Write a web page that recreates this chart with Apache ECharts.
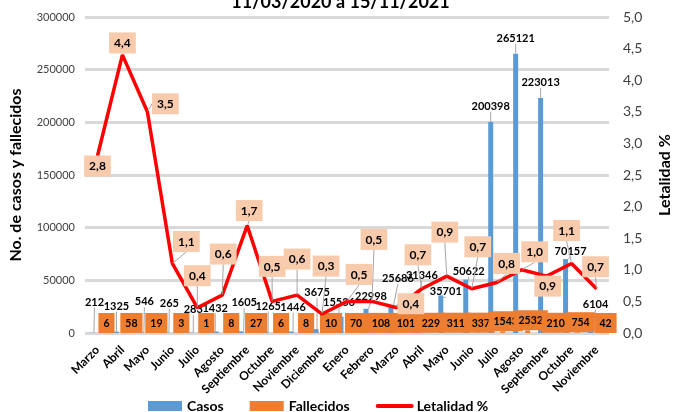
<!DOCTYPE html>
<html>
<head>
<meta charset="utf-8">
<script src="https://cdn.jsdelivr.net/npm/echarts@6/dist/echarts.min.js"></script>
<style>
  html, body { margin: 0; padding: 0; background: #fff; }
  #chart { width: 681px; height: 412px; }
</style>
</head>
<body>
<div id="chart"></div>
<script>
// datos
const meses = ['Marzo', 'Abril', 'Mayo', 'Junio', 'Julio', 'Agosto', 'Septiembre', 'Octubre', 'Noviembre', 'Diciembre',
  'Enero', 'Febrero', 'Marzo', 'Abril', 'Mayo', 'Junio', 'Julio', 'Agosto', 'Septiembre', 'Octubre', 'Noviembre']
const casos = [212, 1325, 546, 265, 283, 1432, 1605, 1265, 1446, 3675,
  15536, 22998, 25686, 31346, 35701, 50622, 200398, 265121, 223013, 70157, 6104]
const fallecidos = [6, 58, 19, 3, 1, 8, 27, 6, 8, 10,
  70, 108, 101, 229, 311, 337, 1543, 2532, 210, 754, 42]
const letalidad = [2.8, 4.4, 3.5, 1.1, 0.4, 0.6, 1.7, 0.5, 0.6, 0.3,
  0.5, 0.5, 0.4, 0.7, 0.9, 0.7, 0.8, 1.0, 0.9, 1.1, 0.7]

// etiquetas movidas a mano (como en el Excel)
const casosDx = [3, 0, 3, 3, 2, -1, 3, 2, 2, 1, -2, 5, 7, 6, 5, 3, 0, 0, 0, 5, 5]
const casosDy = [-15, -10, -15, -14, -8, -8, -13, -10, -9, -21, 1, 3, -12, -9, 12, 7, 0, 0, 0, 8, -7]
const letDx = [0, 0, 18, 14, 0, 1, 2, 0, 0, 4, 12, 2, 14, -4, -2, 6, 10, 13, 1, -5, -1]
const letDy = [26, 4, 8, -6, -16, -25, 1, -19, -20, -32, -11, -46, 12, -18, -28, -26, -3, -2, 26, -17, -6]

const FONT = 'Lato, Calibri, sans-serif'
const coma = v => Number(v).toFixed(1).replace('.', ',')
const guia = {show: true, lineStyle: {color: '#a6a6a6', width: 1}}

const chart = echarts.init(document.getElementById('chart'))

chart.setOption({
  backgroundColor: '#ffffff',
  animation: false,
  title: {
    text: '11/03/2020 a 15/11/2021',
    left: 'center',
    top: -12,
    textStyle: {fontFamily: FONT, fontSize: 18, fontWeight: 'bold', color: '#000'},
  },
  grid: {left: 82, right: 58, top: 17, bottom: 79},
  legend: {
    left: 143,
    top: 394,
    itemWidth: 34,
    itemHeight: 10,
    itemGap: 26,
    textStyle: {fontFamily: FONT, fontSize: 14, fontWeight: 'bold', color: '#000'},
    data: [
      {name: 'Casos', icon: 'rect'},
      {name: 'Fallecidos', icon: 'rect'},
      {name: 'Letalidad %', itemStyle: {opacity: 0}, lineStyle: {width: 4, cap: 'round'}},
    ],
  },
  xAxis: {
    type: 'category',
    data: meses,
    axisLine: {show: false},
    axisTick: {show: false},
    axisLabel: {
      interval: 0,
      rotate: 45,
      margin: 15,
      fontFamily: FONT,
      fontSize: 12,
      fontWeight: 'bold',
      color: '#000',
    },
  },
  yAxis: [
    {
      type: 'value',
      min: 0,
      max: 300000,
      interval: 50000,
      name: 'No. de casos y fallecidos',
      nameLocation: 'middle',
      nameGap: 61,
      nameTextStyle: {fontFamily: FONT, fontSize: 16, fontWeight: 'bold', color: '#000'},
      axisLine: {show: false},
      axisTick: {show: false},
      axisLabel: {fontFamily: FONT, fontSize: 11, color: '#404040', margin: 10, formatter: v => String(v)},
      splitLine: {lineStyle: {color: '#d9d9d9', width: 3}},
    },
    {
      type: 'value',
      min: 0,
      max: 5,
      interval: 0.5,
      name: 'Letalidad %',
      nameLocation: 'middle',
      nameRotate: 90,
      nameGap: 48,
      nameTextStyle: {fontFamily: FONT, fontSize: 16, fontWeight: 'bold', color: '#000'},
      axisLine: {show: false},
      axisTick: {show: false},
      axisLabel: {fontFamily: FONT, fontSize: 14, color: '#404040', margin: 14, formatter: coma},
      splitLine: {show: false},
    },
  ],
  series: [
    {
      name: 'Casos',
      type: 'bar',
      data: casos,
      barWidth: 5,
      barGap: '140%',
      itemStyle: {color: '#5b9bd5'},
      label: {
        show: true,
        position: 'top',
        distance: 10,
        fontFamily: FONT,
        fontSize: 11,
        fontWeight: 'bold',
        color: '#000',
      },
      labelLine: guia,
      labelLayout: p => ({dx: casosDx[p.dataIndex], dy: casosDy[p.dataIndex]}),
    },
    {
      name: 'Fallecidos',
      type: 'bar',
      data: fallecidos,
      barWidth: 5,
      itemStyle: {color: '#ed7d31'},
      label: {
        show: true,
        position: 'top',
        distance: 0,
        offset: [3, 0],
        backgroundColor: '#ed7d31',
        padding: [5, 5, 4, 5],
        fontFamily: FONT,
        fontSize: 10.5,
        fontWeight: 'bold',
        color: '#000',
      },
    },
    {
      name: 'Letalidad %',
      type: 'line',
      yAxisIndex: 1,
      data: letalidad,
      symbol: 'circle',
      symbolSize: 1,
      itemStyle: {color: '#ff0000'},
      lineStyle: {color: '#ff0000', width: 3.5},
      label: {
        show: true,
        position: 'top',
        distance: 5,
        formatter: p => coma(p.value),
        backgroundColor: '#f8cbad',
        padding: [5, 5, 4, 5],
        fontFamily: FONT,
        fontSize: 12,
        fontWeight: 'bold',
        color: '#000',
      },
      labelLine: guia,
      labelLayout: p => ({dx: letDx[p.dataIndex], dy: letDy[p.dataIndex]}),
      z: 3,
    },
  ],
})
</script>
</body>
</html>
